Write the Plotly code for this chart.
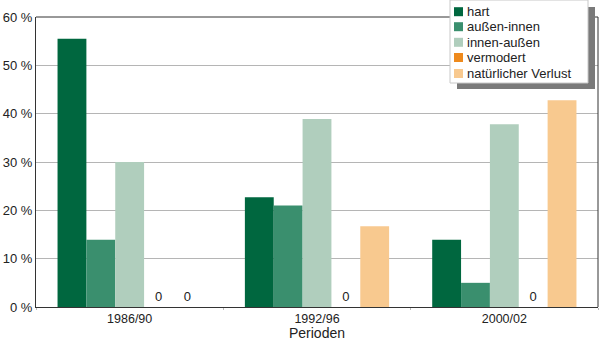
import plotly.graph_objects as go

perioden = ["1986/90", "1992/96", "2000/02"]
series_names = ["hart", "außen-innen", "innen-außen", "vermodert", "natürlicher Verlust"]
hart = [55.5, 22.7, 13.9]
aussen_innen = [13.9, 21.0, 5.0]
innen_aussen = [30.0, 38.9, 37.8]
vermodert = [0, 0, 0]
natuerlich = [0, 16.7, 42.8]
colors = ["#00673f", "#3a8f6e", "#b0cebd", "#ee8a1d", "#f8c98f"]
y_ticks = [0, 10, 20, 30, 40, 50, 60]
y_labels = ["0 %", "10 %", "20 %", "30 %", "40 %", "50 %", "60 %"]

font = "Liberation Sans, Arial, sans-serif"
fig = go.Figure()
for name, vals, col in zip(series_names, [hart, aussen_innen, innen_aussen, vermodert, natuerlich], colors):
    fig.add_trace(go.Bar(
        name=name, x=perioden, y=vals, marker=dict(color=col, line=dict(width=0)),
        text=["0" if v == 0 else "" for v in vals], textposition="outside",
        textfont=dict(size=13, color="#222", family=font), cliponaxis=False,
        showlegend=False,
    ))

W, H = 600, 341
ml, mr, mt, mb = 36, 2, 17, 34
pw, ph = W - ml - mr, H - mt - mb
def px(x): return (x - ml) / pw
def py(y): return (H - mb - y) / ph

# top and right border lines
fig.add_shape(type="line", xref="paper", yref="paper", x0=0, x1=1, y0=1, y1=1, line=dict(color="#333", width=1))
fig.add_shape(type="line", xref="paper", yref="paper", x0=1, x1=1, y0=0, y1=1, line=dict(color="#333", width=1))

# custom legend with drop shadow
fig.add_shape(type="rect", xref="paper", yref="paper",
              x0=px(457), x1=px(595), y0=py(89), y1=py(7),
              fillcolor="#7a7a7a", line=dict(width=0), layer="above")
fig.add_shape(type="rect", xref="paper", yref="paper",
              x0=px(450), x1=px(588), y0=py(83), y1=py(0),
              fillcolor="white", line=dict(color="#c8c8c8", width=1), layer="above")
row_y = [11.7, 26.7, 42.3, 57.5, 73.5]
for name, col, ry in zip(series_names, colors, row_y):
    fig.add_shape(type="rect", xref="paper", yref="paper",
                  x0=px(454), x1=px(463), y0=py(ry + 4.5), y1=py(ry - 4.5),
                  fillcolor=col, line=dict(width=0), layer="above")
    fig.add_annotation(xref="paper", yref="paper", x=px(465), y=py(ry),
                       xanchor="left", yanchor="middle", text=name, showarrow=False,
                       font=dict(size=13, family=font, color="#222"))

fig.update_layout(
    width=W, height=H, margin=dict(l=ml, r=mr, t=mt, b=mb),
    paper_bgcolor="white", plot_bgcolor="white",
    barmode="group", bargap=0.23, bargroupgap=0,
    font=dict(family=font, size=13, color="#222"),
    showlegend=False,
    xaxis=dict(showline=True, linecolor="#333", linewidth=1, mirror=False,
               ticks="outside", ticklen=2, tickcolor="#bbbbbb", tickson="boundaries",
               tickfont=dict(size=12.5), title=dict(text="Perioden", standoff=3, font=dict(size=14)),
               range=[-0.5, 2.5]),
    yaxis=dict(range=[0, 60], tickvals=y_ticks, ticktext=y_labels,
               showgrid=True, gridcolor="#b5b5b5", gridwidth=1,
               showline=True, linecolor="#333", linewidth=1, ticks="",
               zeroline=False, tickfont=dict(size=13)),
)
fig.write_html("out.html")
